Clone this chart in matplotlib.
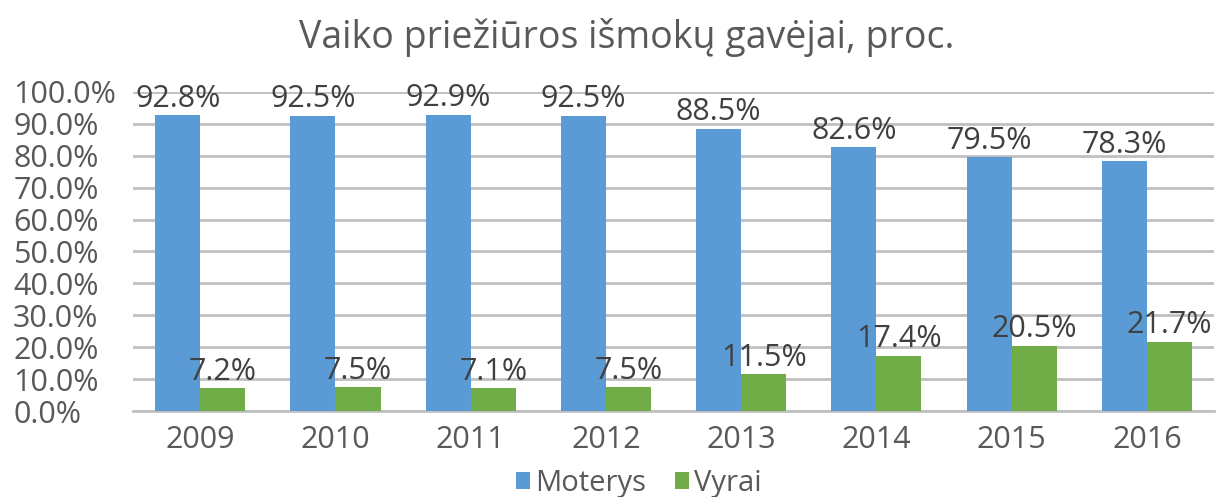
import matplotlib.pyplot as plt
import numpy as np

# duomenys
years = ['2009', '2010', '2011', '2012', '2013', '2014', '2015', '2016']
moterys = [92.8, 92.5, 92.9, 92.5, 88.5, 82.6, 79.5, 78.3]
vyrai = [7.2, 7.5, 7.1, 7.5, 11.5, 17.4, 20.5, 21.7]
yticks = [0, 10, 20, 30, 40, 50, 60, 70, 80, 90, 100]

plt.rcParams['font.family'] = ['Open Sans', 'DejaVu Sans']
text_color = '#595959'
blue = '#5B9BD5'
green = '#70AD47'

fig = plt.figure(figsize=(12.28, 4.97), dpi=100)
ax = fig.add_axes([0.108, 0.173, 0.881, 0.642])

x = np.arange(len(years))
w = 0.333
b1 = ax.bar(x - w / 2, moterys, w, color=blue, label='Moterys', zorder=3)
b2 = ax.bar(x + w / 2, vyrai, w, color=green, label='Vyrai', zorder=3)

for bars in (b1, b2):
    ax.bar_label(bars, labels=[f'{v.get_height():.1f}%' for v in bars],
                 padding=1, fontsize=22, color='#404040')

ax.set_xlim(-0.5, len(years) - 0.5)
ax.set_ylim(0, 100)
ax.set_yticks(yticks)
ax.set_yticklabels([f'{t:.1f}%' for t in yticks])
ax.set_xticks(x)
ax.set_xticklabels(years)
ax.tick_params(axis='y', length=0, labelsize=22, labelcolor=text_color, pad=86)
ax.tick_params(axis='x', length=0, labelsize=22, labelcolor=text_color, pad=10)
for lab in ax.get_yticklabels():
    lab.set_horizontalalignment('left')

ax.grid(axis='y', color='#C0C0C0', linewidth=2, zorder=0)
for s in ['left', 'right', 'top']:
    ax.spines[s].set_visible(False)
ax.spines['bottom'].set_color('#C0C0C0')
ax.spines['bottom'].set_linewidth(2)

fig.text(0.51, 0.925, 'Vaiko priežiūros išmokų gavėjai, proc.', ha='center',
         va='center', fontsize=27, color=text_color)

fig.legend(loc='lower center', bbox_to_anchor=(0.52, -0.055), ncol=2, frameon=False,
           fontsize=21, labelcolor=text_color, handlelength=0.5, handleheight=0.5,
           handletextpad=0.15, columnspacing=1.0)

fig.savefig('out.png', dpi=100)
